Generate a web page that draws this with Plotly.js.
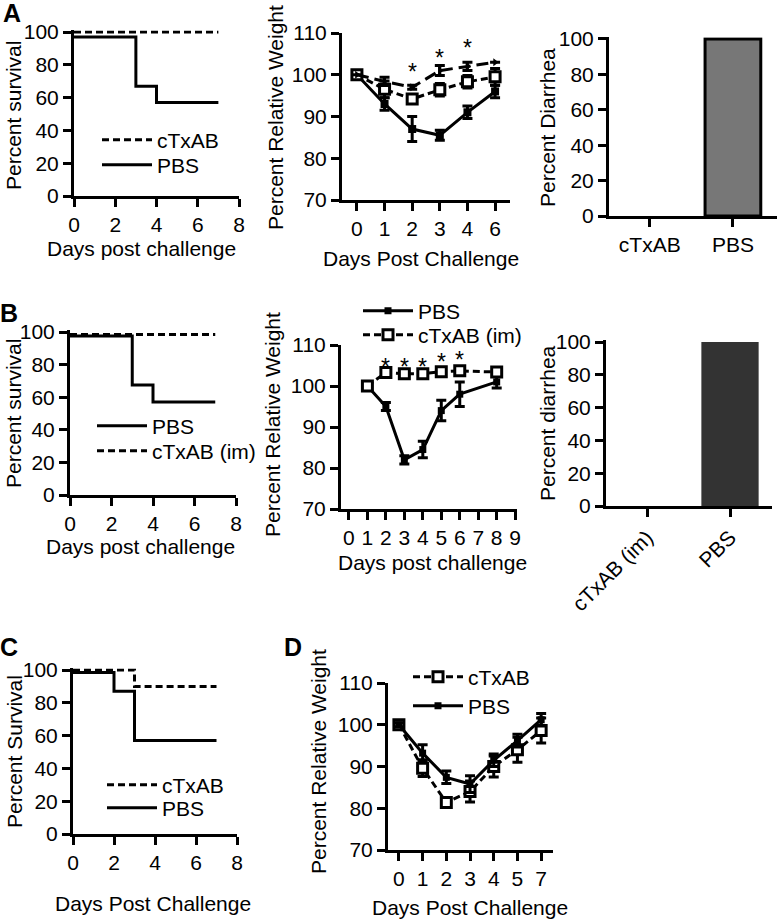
<!DOCTYPE html>
<html><head><meta charset="utf-8">
<script src="https://cdn.plot.ly/plotly-3.0.1.min.js"></script>
<style>html,body{margin:0;padding:0;background:#fff}#chart{width:780px;height:920px}</style>
</head><body><div id="chart"></div>
<script>
// ================= DATA =================
// Panel A - survival
const survA_days_cTxAB = [0, 7];
const survA_cTxAB = [100, 100];
const survA_days_PBS = [0, 3, 4, 7];
const survA_PBS = [97, 67, 57, 57];

// Panel A - relative weight
const wtA_days = ["0", "1", "2", "3", "4", "6"];
const wtA_PBS = [100, 93, 87, 85.5, 91, 96];
const wtA_PBS_err = [0.5, 1.5, 3, 1.2, 1.5, 1.5];
const wtA_cTxAB1 = [100, 96.5, 94.2, 96.4, 98.3, 99.5];
const wtA_cTxAB1_err = [0.5, 2, 1, 1.5, 1.5, 2];
const wtA_cTxAB2 = [100, 98.4, 97, 101, 102, 103];
const wtA_cTxAB2_err = [0, 1, 0.5, 1.2, 1, 0];
const wtA_star_days = ["2", "3", "4"];
const wtA_star_y = [102.4, 105.6, 108];

// Panel A - diarrhea
const diaA_groups = ["cTxAB", "PBS"];
const diaA_values = [0, 100];

// Panel B - survival
const survB_days_PBS = [0, 3, 4, 7];
const survB_PBS = [97.5, 67.5, 57, 57];
const survB_days_cTxAB = [0, 7];
const survB_cTxAB = [98.5, 98.5];

// Panel B - relative weight
const wtB_days = [1, 2, 3, 4, 5, 6, 8];
const wtB_PBS = [100, 95, 82, 84.5, 94, 98, 101];
const wtB_PBS_err = [0.5, 1, 1, 2, 2.5, 3, 1.5];
const wtB_cTxAB = [100, 103.3, 103, 103, 103.5, 103.7, 103.4];
const wtB_cTxAB_err = [0.5, 0.5, 0.5, 0.5, 0.5, 0.5, 0.5];
const wtB_star_days = [2, 3, 4, 5, 6];
const wtB_star_y = [106.3, 106.3, 106.3, 107.6, 108.1];

// Panel B - diarrhea
const diaB_groups = ["cTxAB (im)", "PBS"];
const diaB_values = [0, 100];

// Panel C - survival
const survC_days_cTxAB = [0, 3, 7];
const survC_cTxAB = [100, 90, 90];
const survC_days_PBS = [0, 2, 3, 7];
const survC_PBS = [98.5, 87, 57, 57];

// Panel D - relative weight
const wtD_days = ["0", "1", "2", "3", "4", "5", "7"];
const wtD_cTxAB = [100, 89.6, 81.4, 84, 90, 94, 98.6];
const wtD_cTxAB_err = [0.5, 2, 1, 2.5, 2.5, 3, 3];
const wtD_PBS = [100, 93.2, 87.4, 85.8, 91.5, 96.2, 101.2];
const wtD_PBS_err = [0.5, 2, 1.5, 2, 1.5, 1.5, 1.5];

// ================= STYLE / LAYOUT =================
const W = 780, H = 920;
const FONT = "Liberation Sans, Arial, Helvetica, sans-serif";
function xd(a, b) { return [a / W, b / W]; }
function yd(top, bottom) { return [1 - bottom / H, 1 - top / H]; }

const axBase = {
  showline: true, linecolor: '#000', linewidth: 3,
  ticks: 'outside', ticklen: 8, tickwidth: 3, tickcolor: '#000',
  showgrid: false, zeroline: false, fixedrange: true,
  tickfont: { family: FONT, size: 21, color: '#000' }
};
const pctTicks = { tickmode: 'array', tickvals: [0, 20, 40, 60, 80, 100] };
const wtTicks = { tickmode: 'array', tickvals: [70, 80, 90, 100, 110] };
const dayTicks = { tickmode: 'array', tickvals: [0, 2, 4, 6, 8] };
const catTicks = { type: 'category', tickmode: 'linear', tick0: 0, dtick: 1 };

const solid = { color: '#000', width: 3 };
const dashed = { color: '#000', width: 3, dash: '7px,4px' };
function err(arr) { return { type: 'data', array: arr, visible: true, color: '#000', thickness: 3, width: 5 }; }
const filledSq = { symbol: 'square', size: 8, color: '#000' };
const openSq = { symbol: 'square', size: 10, color: '#fff', line: { color: '#000', width: 3 } };

const traces = [
  // ---- A survival ----
  { x: survA_days_cTxAB, y: survA_cTxAB, name: 'cTxAB', mode: 'lines', line: { ...dashed, shape: 'hv' }, xaxis: 'x', yaxis: 'y', legend: 'legend' },
  { x: survA_days_PBS, y: survA_PBS, name: 'PBS', mode: 'lines', line: { ...solid, shape: 'hv' }, xaxis: 'x', yaxis: 'y', legend: 'legend2' },
  // ---- A weight ----
  { x: wtA_days, y: wtA_PBS, name: 'PBS', mode: 'lines+markers', line: solid, marker: filledSq, error_y: err(wtA_PBS_err), xaxis: 'x2', yaxis: 'y2', showlegend: false },
  { x: wtA_days, y: wtA_cTxAB1, name: 'cTxAB', mode: 'lines+markers', line: dashed, marker: openSq, error_y: err(wtA_cTxAB1_err), xaxis: 'x2', yaxis: 'y2', showlegend: false },
  { x: wtA_days, y: wtA_cTxAB2, name: 'cTxAB 2', mode: 'lines+markers', line: { color: '#000', width: 3, dash: '12px,6px' }, marker: { symbol: 'triangle-right', size: 7, color: '#000' }, error_y: err(wtA_cTxAB2_err), xaxis: 'x2', yaxis: 'y2', showlegend: false },
  // ---- A diarrhea ----
  { type: 'bar', x: diaA_groups, y: diaA_values, width: 0.67, marker: { color: '#777777', line: { color: '#000', width: [0, 3] } }, xaxis: 'x3', yaxis: 'y3', showlegend: false },
  // ---- B survival ----
  { x: survB_days_PBS, y: survB_PBS, name: 'PBS', mode: 'lines', line: { ...solid, shape: 'hv' }, xaxis: 'x4', yaxis: 'y4', legend: 'legend3' },
  { x: survB_days_cTxAB, y: survB_cTxAB, name: 'cTxAB (im)', mode: 'lines', line: { ...dashed, shape: 'hv' }, xaxis: 'x4', yaxis: 'y4', legend: 'legend4' },
  // ---- B weight ----
  { x: wtB_days, y: wtB_PBS, name: 'PBS', mode: 'lines+markers', line: solid, marker: { ...filledSq, size: 7 }, error_y: err(wtB_PBS_err), xaxis: 'x5', yaxis: 'y5', legend: 'legend5' },
  { x: wtB_days, y: wtB_cTxAB, name: 'cTxAB (im)', mode: 'lines+markers', line: dashed, marker: openSq, error_y: err(wtB_cTxAB_err), xaxis: 'x5', yaxis: 'y5', legend: 'legend6' },
  // ---- B diarrhea ----
  { type: 'bar', x: diaB_groups, y: diaB_values, width: 0.69, marker: { color: '#333333', line: { width: 0 } }, xaxis: 'x6', yaxis: 'y6', showlegend: false },
  // ---- C survival ----
  { x: survC_days_cTxAB, y: survC_cTxAB, name: 'cTxAB', mode: 'lines', line: { ...dashed, shape: 'hv' }, xaxis: 'x7', yaxis: 'y7', legend: 'legend7' },
  { x: survC_days_PBS, y: survC_PBS, name: 'PBS', mode: 'lines', line: { ...solid, shape: 'hv' }, xaxis: 'x7', yaxis: 'y7', legend: 'legend8' },
  // ---- D weight ----
  { x: wtD_days, y: wtD_cTxAB, name: 'cTxAB', mode: 'lines+markers', line: dashed, marker: openSq, error_y: err(wtD_cTxAB_err), xaxis: 'x8', yaxis: 'y8', legend: 'legend9' },
  { x: wtD_days, y: wtD_PBS, name: 'PBS', mode: 'lines+markers', line: solid, marker: { ...filledSq, size: 7 }, error_y: err(wtD_PBS_err), xaxis: 'x8', yaxis: 'y8', legend: 'legend10' }
];

// one legend per entry so each entry can be placed like the reference
const legBase = {
  bgcolor: 'rgba(0,0,0,0)', borderwidth: 0, xanchor: 'left', yanchor: 'middle',
  font: { family: FONT, size: 21, color: '#000' }, itemwidth: 50, traceorder: 'normal'
};
function leg(sampleX, centerY) { return { ...legBase, x: (sampleX - 5) / W, y: 1 - centerY / H }; }

function ann(text, xpx, ypx, opts) {
  return Object.assign({ text, x: xpx / W, y: 1 - ypx / H, xref: 'paper', yref: 'paper', showarrow: false,
    xanchor: 'center', yanchor: 'middle', font: { family: FONT, size: 21, color: '#000' } }, opts || {});
}
const vt = { textangle: -90 };
const bold = { font: { family: FONT, size: 25, color: '#000', weight: 'bold' } };

function stars(days, ys, xref, yref, cats) {
  return days.map((d, i) => ({
    text: '*', x: cats ? cats.indexOf(d) : d, y: ys[i], xref, yref, showarrow: false,
    xanchor: 'center', yanchor: 'middle', yshift: -7, font: { family: FONT, size: 23, color: '#000' }
  }));
}

const layout = {
  width: W, height: H, margin: { l: 0, r: 0, t: 0, b: 0 },
  paper_bgcolor: '#fff', plot_bgcolor: 'rgba(0,0,0,0)',
  font: { family: FONT, size: 21, color: '#000' },
  showlegend: true,
  // A
  xaxis: { ...axBase, ...dayTicks, domain: xd(74, 239), range: [0, 8], anchor: 'y' },
  yaxis: { ...axBase, ...pctTicks, domain: yd(30.4, 196), range: [0, 101], anchor: 'x' },
  xaxis2: { ...axBase, ...catTicks, domain: xd(342, 510), range: [-0.54, 5.54], anchor: 'y2' },
  yaxis2: { ...axBase, ...wtTicks, domain: yd(33, 200), range: [70, 110], anchor: 'x2' },
  xaxis3: { ...axBase, ...catTicks, domain: xd(609, 777), range: [-0.49, 1.53], anchor: 'y3' },
  yaxis3: { ...axBase, ...pctTicks, domain: yd(37.2, 216), range: [0, 101], anchor: 'x3' },
  // B
  xaxis4: { ...axBase, ...dayTicks, domain: xd(70, 236), range: [0, 8], anchor: 'y4' },
  yaxis4: { ...axBase, ...pctTicks, domain: yd(330.4, 495), range: [0, 101], anchor: 'x4' },
  xaxis5: { ...axBase, tickmode: 'linear', tick0: 0, dtick: 1, domain: xd(341, 517), range: [-0.43, 9.1], anchor: 'y5' },
  yaxis5: { ...axBase, ...wtTicks, domain: yd(345, 509), range: [70, 110], anchor: 'x5' },
  xaxis6: { ...axBase, ...catTicks, tickangle: -45, domain: xd(606, 772), range: [-0.494, 1.506], anchor: 'y6' },
  yaxis6: { ...axBase, ...pctTicks, domain: yd(340.4, 506), range: [0, 101], anchor: 'x6' },
  // C
  xaxis7: { ...axBase, ...dayTicks, domain: xd(73, 237), range: [0, 8], anchor: 'y7' },
  yaxis7: { ...axBase, ...pctTicks, domain: yd(668.4, 834), range: [0, 101], anchor: 'x7' },
  // D
  xaxis8: { ...axBase, ...catTicks, domain: xd(388, 553), range: [-0.46, 6.5], anchor: 'y8' },
  yaxis8: { ...axBase, ...wtTicks, domain: yd(683, 850), range: [70, 110], anchor: 'x8' },

  legend: leg(102, 140), legend2: leg(102, 165),
  legend3: leg(97, 426), legend4: leg(97, 451),
  legend5: leg(363, 311), legend6: leg(363, 335),
  legend7: leg(107, 785), legend8: leg(107, 808),
  legend9: leg(413, 677), legend10: leg(413, 706),

  annotations: [
    ann('A', 12, 13, bold), ann('B', 9, 313, bold), ann('C', 9, 647, bold), ann('D', 293, 647, bold),
    // A titles
    ann('Percent survival', 14, 116, vt),
    ann('Days post challenge', 141, 248),
    ann('Percent Relative Weight', 275, 118, vt),
    ann('Days Post Challenge', 421, 258),
    ann('Percent Diarrhea', 548, 128, vt),
    // B titles
    ann('Percent survival', 14, 414, vt),
    ann('Days post challenge', 140, 546),
    ann('Percent Relative Weight', 273, 425, vt),
    ann('Days post challenge', 432, 562),
    ann('Percent diarrhea', 547, 423, vt),
    // C titles
    ann('Percent Survival', 14, 752, vt),
    ann('Days Post Challenge', 153, 903),
    // D titles
    ann('Percent Relative Weight', 318, 762, vt),
    ann('Days Post Challenge', 470, 907)
  ].concat(stars(wtA_star_days, wtA_star_y, 'x2', 'y2', wtA_days))
   .concat(stars(wtB_star_days, wtB_star_y, 'x5', 'y5', null))
};

Plotly.newPlot('chart', traces, layout, { staticPlot: true, displayModeBar: false });
</script>
</body></html>
